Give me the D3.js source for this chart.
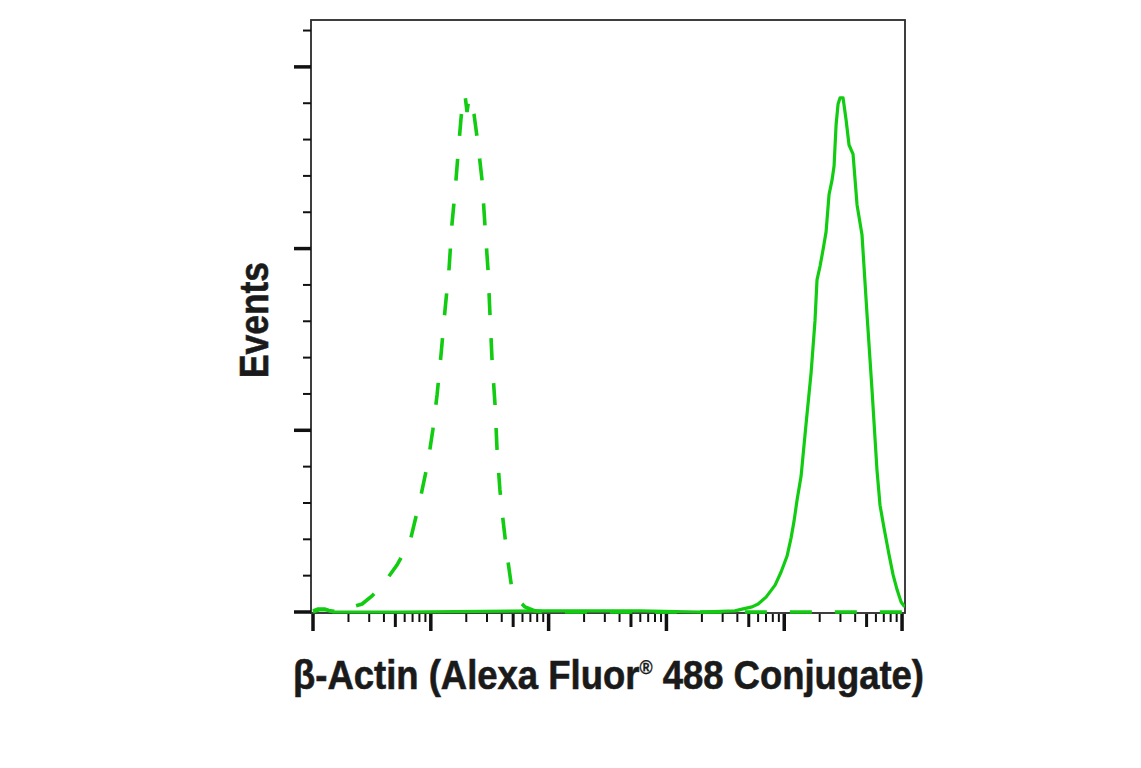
<!DOCTYPE html>
<html>
<head>
<meta charset="utf-8">
<script src="https://cdn.jsdelivr.net/npm/d3@7/dist/d3.min.js"></script>
<style>
  html, body { margin: 0; padding: 0; background: #ffffff; }
  svg { display: block; }
</style>
</head>
<body>
<svg id="chart" width="1141" height="768"></svg>
<script>
// ---- Data (fluorescence intensity vs. events) ----
const isotypeIntensity = [10, 11, 12.6, 13.9, 16.9, 21.4, 26.1, 31.7, 40.8, 51.6, 66.5, 80.9, 94.6, 104, 113, 122, 132, 143, 151, 161, 170, 180, 187, 195, 203, 211, 219, 233, 252, 272, 288, 306, 318, 331, 351, 365, 386, 410, 444, 489, 550, 631, 767, 931, 5000, 50000, 1057000];
const isotypeEvents    = [0.3, 0.8, 0.8, 0.3, 0, 1.4, 2.2, 4.4, 8.3, 12.9, 19.3, 30.8, 41.3, 50.1, 59.7, 70.7, 83.1, 94.7, 106.5, 116.1, 125.8, 135.4, 140.9, 142.3, 137.6, 141.5, 139.2, 136.8, 128.5, 118.9, 106.5, 94.1, 81.7, 69.3, 57.0, 44.6, 33.6, 25.3, 15.7, 6.1, 3.3, 1.4, 0.3, 0, 0, 0, 0];

const actinIntensity = [10, 11.5, 13, 15, 55, 1030, 5970, 19300, 38200, 43900, 53300, 60000, 70100, 83600, 94000, 105700, 114300, 121100, 128500, 139000, 153100, 169000, 182400, 189700, 201400, 213300, 226500, 239900, 254700, 264800, 275400, 286400, 297900, 315500, 335000, 354800, 383700, 415000, 457100, 504700, 555900, 612400, 650100, 703100, 776200, 839500, 907800, 981700, 1040000, 1057000];
const actinEvents    = [0, 0.6, 0.6, 0, 0, 0.3, 0.3, 0, 0.3, 0.8, 1.4, 2.2, 4.1, 7.4, 11.0, 15.4, 20.4, 25.0, 30.8, 37.4, 51.7, 65.8, 80.1, 91.4, 95.2, 99.6, 104.6, 114.8, 118.9, 122.7, 134.0, 139.8, 141.5, 141.5, 135.4, 128.5, 126.0, 112.0, 103.8, 81.7, 61.1, 39.1, 29.4, 23.1, 15.7, 10.2, 6.1, 2.75, 1.65, 1.65];

const xMajorTicks = [1e1, 1e2, 1e3, 1e4, 1e5, 1e6];
const yMajorTicks = [0, 50, 100, 150];
const yMinorTicks = [10, 20, 30, 40, 60, 70, 80, 90, 110, 120, 130, 140, 160];

const xTitleParts = ["β-Actin (Alexa Fluor", "®", " 488 Conjugate)"];
const yTitle = "Events";

// ---- Layout ----
(function () {
const svg = d3.select("#chart");
const pL = 311, pR = 905, pT = 20, pB = 612;
const green = "#12cc12";

const x = d3.scaleLog().domain([Math.pow(10, 0.983), Math.pow(10, 6.025)]).range([pL, pR]);
const y = d3.scaleLinear().domain([0, 162.9]).range([pB, pT]);

// minor x ticks: 2..9 in each decade
const xMinor = [];
for (let d = 1; d < 6; d++) {
  for (let m = 2; m <= 9; m++) xMinor.push({v: m * Math.pow(10, d), m: m});
}

// ---- Frame ----
svg.append("rect")
  .attr("x", pL).attr("y", pT)
  .attr("width", pR - pL).attr("height", pB - pT + 1)
  .attr("fill", "none").attr("stroke", "#2a2a2a").attr("stroke-width", 1.8);

// ---- Curves ----
const line = d3.line()
  .x(d => x(d[0]))
  .y(d => y(d[1]));

svg.append("path")
  .datum(actinIntensity.map((v, i) => [v, actinEvents[i]]))
  .attr("d", line)
  .attr("fill", "none").attr("stroke", green).attr("stroke-width", 3.2)
  .attr("stroke-linejoin", "round");

svg.append("path")
  .datum(isotypeIntensity.map((v, i) => [v, isotypeEvents[i]]))
  .attr("d", line)
  .attr("fill", "none").attr("stroke", green).attr("stroke-width", 3.6)
  .attr("stroke-dasharray", "22,23");

// ---- X axis ticks (below frame) ----
const xAxisG = svg.append("g").attr("transform", `translate(0,${pB + 2})`);
xAxisG.selectAll("line.minor").data(xMinor).enter().append("line")
  .attr("x1", d => x(d.v)).attr("x2", d => x(d.v))
  .attr("y1", 0).attr("y2", d => d.m === 5 ? 13 : 8)
  .attr("stroke", "#111").attr("stroke-width", d => d.m === 5 ? 3 : 2);
xAxisG.selectAll("line.major").data(xMajorTicks).enter().append("line")
  .attr("x1", d => x(d)).attr("x2", d => x(d))
  .attr("y1", 0).attr("y2", 17)
  .attr("stroke", "#111").attr("stroke-width", 3.5);

// ---- Y axis ticks ----
const yAxisG = svg.append("g");
yAxisG.selectAll("line.minor").data(yMinorTicks).enter().append("line")
  .attr("x1", pL - 8).attr("x2", pL)
  .attr("y1", d => y(d)).attr("y2", d => y(d))
  .attr("stroke", "#111").attr("stroke-width", 2);
yAxisG.selectAll("line.major").data(yMajorTicks).enter().append("line")
  .attr("x1", pL - 17).attr("x2", pL)
  .attr("y1", d => y(d)).attr("y2", d => y(d))
  .attr("stroke", "#111").attr("stroke-width", 3.5);

// ---- Titles ----
const fontFam = "'Liberation Sans', Arial, sans-serif";
const xt = svg.append("text")
  .attr("x", 293).attr("y", 689)
  .attr("font-family", fontFam).attr("font-weight", "bold")
  .attr("font-size", 41).attr("fill", "#1a1a1a")
  .attr("stroke", "#1a1a1a").attr("stroke-width", 0.6)
  .attr("textLength", 631).attr("lengthAdjust", "spacingAndGlyphs");
xt.append("tspan").text(xTitleParts[0]);
xt.append("tspan").attr("font-size", 20).attr("stroke-width", 0.3).attr("dy", -15).text(xTitleParts[1]);
xt.append("tspan").attr("dy", 15).text(xTitleParts[2]);

svg.append("text")
  .attr("transform", "translate(268,378) rotate(-90)")
  .attr("x", 0).attr("y", 0)
  .attr("font-family", fontFam).attr("font-weight", "bold")
  .attr("font-size", 41).attr("fill", "#1a1a1a")
  .attr("stroke", "#1a1a1a").attr("stroke-width", 0.6)
  .attr("textLength", 116).attr("lengthAdjust", "spacingAndGlyphs")
  .text(yTitle);
})();
</script>
</body>
</html>
